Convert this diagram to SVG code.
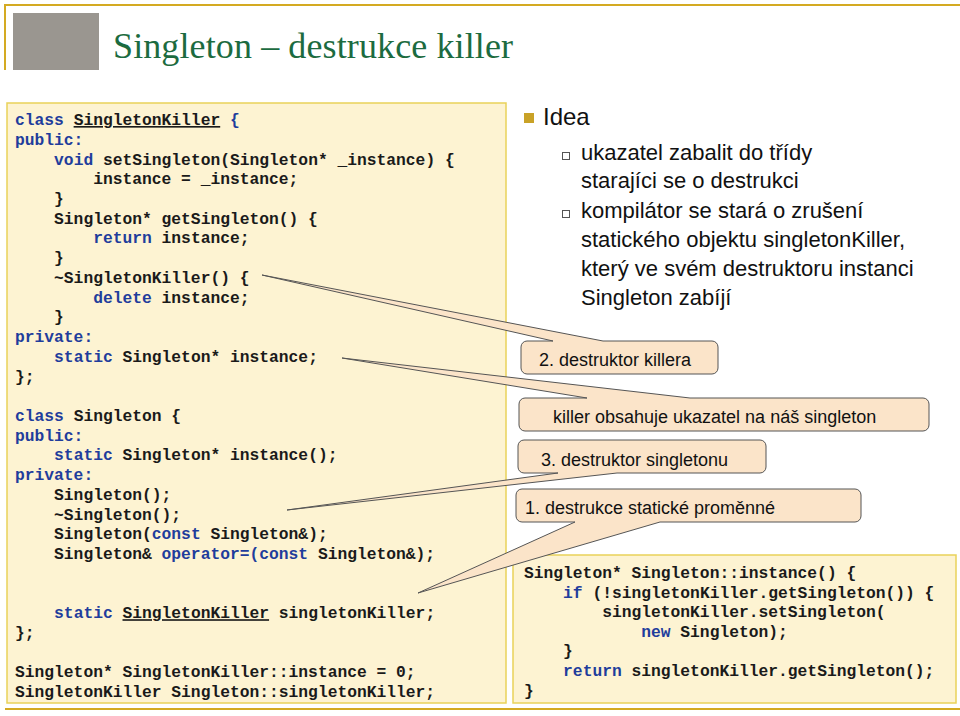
<svg xmlns="http://www.w3.org/2000/svg" width="960" height="716" viewBox="0 0 960 716">
<style>
.code{font-family:"Liberation Mono",monospace;font-weight:bold;font-size:16.3px;fill:#1a1a1a;white-space:pre}
.k{fill:#1f3d9c}
.u{text-decoration:underline}
.box{fill:#fdf3d2;stroke:#e9d25a;stroke-width:1.5}
.co{fill:#fbe4c9;stroke:#555;stroke-width:1}
.ct{font-family:"Liberation Sans",Arial,sans-serif;font-size:18px;fill:#111}
.bt{font-family:"Liberation Sans",Arial,sans-serif;font-size:22px;fill:#111}
</style>
<rect width="960" height="716" fill="#fff"/>
<g id="header">
<line x1="5" y1="5" x2="960" y2="5" stroke="#d4aa22" stroke-width="2"/>
<line x1="5" y1="4" x2="5" y2="70" stroke="#d4aa22" stroke-width="2"/>
<rect x="13" y="13" width="86" height="57" fill="#9a9690"/>
<text x="113" y="58" font-family="Liberation Serif,serif" font-size="36" fill="#1c6b40" textLength="400">Singleton – destrukce killer</text>
</g>
<line x1="5" y1="709" x2="960" y2="709" stroke="#d4aa22" stroke-width="2"/>
<g id="code-left">
<rect class="box" x="7" y="103" width="499" height="600"/>
<text class="code" x="15" y="125"><tspan class="k">class </tspan><tspan class="u">SingletonKiller</tspan><tspan class="k"> {</tspan></text>
<text class="code" x="15" y="144.7"><tspan class="k">public:</tspan></text>
<text class="code" x="15" y="164.5">    <tspan class="k">void</tspan> setSingleton(Singleton* _instance) {</text>
<text class="code" x="15" y="184.2">        instance = _instance;</text>
<text class="code" x="15" y="203.9">    }</text>
<text class="code" x="15" y="223.7">    Singleton* getSingleton() {</text>
<text class="code" x="15" y="243.4">        <tspan class="k">return</tspan> instance;</text>
<text class="code" x="15" y="263.1">    }</text>
<text class="code" x="15" y="282.8">    ~SingletonKiller() {</text>
<text class="code" x="15" y="302.6">        <tspan class="k">delete</tspan> instance;</text>
<text class="code" x="15" y="322.3">    }</text>
<text class="code" x="15" y="342"><tspan class="k">private:</tspan></text>
<text class="code" x="15" y="361.8">    <tspan class="k">static</tspan> Singleton* instance;</text>
<text class="code" x="15" y="381.5">};</text>
<text class="code" x="15" y="421"><tspan class="k">class</tspan> Singleton {</text>
<text class="code" x="15" y="440.7"><tspan class="k">public:</tspan></text>
<text class="code" x="15" y="460.4">    <tspan class="k">static</tspan> Singleton* instance();</text>
<text class="code" x="15" y="480.1"><tspan class="k">private:</tspan></text>
<text class="code" x="15" y="499.9">    Singleton();</text>
<text class="code" x="15" y="519.6">    ~Singleton();</text>
<text class="code" x="15" y="539.3">    Singleton(<tspan class="k">const</tspan> Singleton&amp;);</text>
<text class="code" x="15" y="559">    Singleton&amp; <tspan class="k">operator=(const</tspan> Singleton&amp;);</text>
<text class="code" x="15" y="618.2">    <tspan class="k">static</tspan> <tspan class="u">SingletonKiller</tspan> singletonKiller;</text>
<text class="code" x="15" y="638">};</text>
<text class="code" x="15" y="677.4">Singleton* SingletonKiller::instance = 0;</text>
<text class="code" x="15" y="697">SingletonKiller Singleton::singletonKiller;</text>
</g>
<g id="code-right">
<rect class="box" x="513" y="555" width="443" height="148"/>
<text class="code" x="524" y="578">Singleton* Singleton::instance() {</text>
<text class="code" x="524" y="597.6">    <tspan class="k">if</tspan> (!singletonKiller.getSingleton()) {</text>
<text class="code" x="524" y="617.2">        singletonKiller.setSingleton(</text>
<text class="code" x="524" y="636.8">            <tspan class="k">new</tspan> Singleton);</text>
<text class="code" x="524" y="656.4">    }</text>
<text class="code" x="524" y="676">    <tspan class="k">return</tspan> singletonKiller.getSingleton();</text>
<text class="code" x="524" y="695.6">}</text>
</g>
<g id="idea">
<rect x="524" y="113" width="10" height="10" fill="#c9a227"/>
<text x="543" y="125" font-family="Liberation Sans,Arial,sans-serif" font-size="24" fill="#111">Idea</text>
<rect x="562.5" y="152.5" width="7" height="7" fill="none" stroke="#555" stroke-width="1"/>
<text class="bt" x="581" y="160">ukazatel zabalit do třídy</text>
<text class="bt" x="581" y="188">starajíci se o destrukci</text>
<rect x="562.5" y="210.5" width="7" height="7" fill="none" stroke="#555" stroke-width="1"/>
<text class="bt" x="581" y="218">kompilátor se stará o zrušení</text>
<text class="bt" x="581" y="247">statického objektu singletonKiller,</text>
<text class="bt" x="581" y="276">který ve svém destruktoru instanci</text>
<text class="bt" x="581" y="305">Singleton zabíjí</text>
</g>
<g id="connectors">
<g id="callout-2">
<path class="co" d="M527,341 H553 L262,275 L603,341 H712 A6,6 0 0 1 718,347 V368 A6,6 0 0 1 712,374 H527 A6,6 0 0 1 521,368 V347 A6,6 0 0 1 527,341 Z"/>
<text class="ct" x="539" y="366">2. destruktor killera</text>
</g>
<g id="callout-killer">
<path class="co" d="M525,398 H587 L342,358 L690,398 H923 A6,6 0 0 1 929,404 V425 A6,6 0 0 1 923,431 H525 A6,6 0 0 1 519,425 V404 A6,6 0 0 1 525,398 Z"/>
<text class="ct" x="553" y="423">killer obsahuje ukazatel na náš singleton</text>
</g>
<g id="callout-3">
<path class="co" d="M524,440 H760 A6,6 0 0 1 766,446 V467 A6,6 0 0 1 760,473 H617 L287,510 L558,473 H524 A6,6 0 0 1 518,467 V446 A6,6 0 0 1 524,440 Z"/>
<text class="ct" x="541" y="466">3. destruktor singletonu</text>
</g>
<g id="callout-1">
<path class="co" d="M522,489 H855 A6,6 0 0 1 861,495 V516 A6,6 0 0 1 855,522 H660 L418,593 L575,522 H522 A6,6 0 0 1 516,516 V495 A6,6 0 0 1 522,489 Z"/>
<text class="ct" x="525" y="514">1. destrukce statické proměnné</text>
</g>
</g>
</svg>
